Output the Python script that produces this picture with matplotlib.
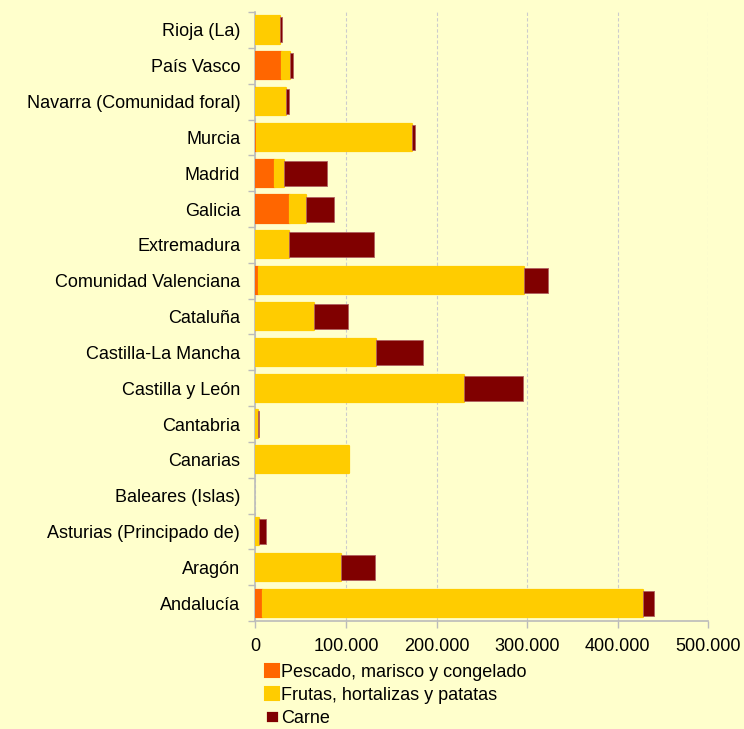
import matplotlib
matplotlib.use("Agg")
import matplotlib.pyplot as plt
from matplotlib.patches import Patch
from matplotlib.ticker import FuncFormatter, FixedLocator
import numpy as np

regiones = ["Rioja (La)", "País Vasco", "Navarra (Comunidad foral)", "Murcia",
            "Madrid", "Galicia", "Extremadura", "Comunidad Valenciana",
            "Cataluña", "Castilla-La Mancha", "Castilla y León", "Cantabria",
            "Canarias", "Baleares (Islas)", "Asturias (Principado de)",
            "Aragón", "Andalucía"]
pescado = [0, 29000, 500, 1500, 21000, 38500, 0, 4000,
           1000, 0, 0, 0, 0, 0, 0, 0, 8000]
frutas = [27500, 9500, 33000, 171500, 10000, 17000, 37000, 293000,
          64000, 133000, 230000, 3000, 103000, 0, 4000, 94000, 420000]
carne = [1500, 2500, 4000, 3500, 47500, 31000, 94000, 26500,
         37500, 52000, 65500, 1000, 0, 0, 7500, 38000, 12000]
series_labels = ["Pescado, marisco y congelado", "Frutas, hortalizas y patatas", "Carne"]

BG = "#FFFFCC"
C_PESC = "#FF6600"
C_FRUT = "#FFCC00"
C_CARN = "#800000"

plt.rcParams['font.family'] = ['Liberation Sans', 'DejaVu Sans']

fig = plt.figure(figsize=(7.44, 7.29), dpi=100, facecolor=BG)
ax = fig.add_axes([0.3434, 0.1481, 0.952 - 0.3434, 0.9835 - 0.1481], facecolor=BG)

y = np.arange(len(regiones))[::-1]
p = np.array(pescado)
f = np.array(frutas)
c = np.array(carne)
h = 0.76


def stacked(values, left, **kw):
    # skip empty segments so their edges don't leave stray lines
    m = values > 0
    ax.barh(y[m], values[m], left=left[m], **kw)


stacked(p, np.zeros_like(p), height=h, color=C_PESC, edgecolor=C_PESC,
        linewidth=1.6, joinstyle="round", zorder=3)
stacked(f, p, height=h, color=C_FRUT, edgecolor=C_FRUT,
        linewidth=1.6, joinstyle="round", zorder=3)
stacked(c, p + f, height=h * 0.92, color=C_CARN, edgecolor="#B06060",
        linewidth=0.6, zorder=4)

ax.set_xlim(0, 500000)
ax.set_ylim(-0.5, len(regiones) - 0.5)
ax.xaxis.set_major_locator(FixedLocator(np.arange(0, 500001, 100000)))
ax.xaxis.set_major_formatter(FuncFormatter(lambda v, pos: f"{int(v):,}".replace(",", ".")))
ax.grid(axis="x", color="#CCCCCC", linestyle=(0, (3, 2)), linewidth=0.8, zorder=0)

ax.set_yticks(y)
ax.set_yticklabels(regiones)
ax.set_yticks(np.arange(-0.5, len(regiones), 1.0), minor=True)
ax.tick_params(axis="y", which="major", length=0, pad=11, labelsize=13, colors="#000000")
ax.tick_params(axis="y", which="minor", length=5, color="#BBBBBB", width=1)
ax.tick_params(axis="x", length=5, color="#BBBBBB", width=1, pad=7, labelsize=13)

for s in ["top", "right"]:
    ax.spines[s].set_visible(False)
for s in ["left", "bottom"]:
    ax.spines[s].set_color("#BBBBBB")
    ax.spines[s].set_linewidth(1.2)

handles = [Patch(facecolor=C_PESC, edgecolor=C_PESC, linewidth=1.5),
           Patch(facecolor=C_FRUT, edgecolor=C_FRUT, linewidth=1.5),
           Patch(facecolor=C_CARN, edgecolor=BG, linewidth=2.0)]
fig.legend(handles, series_labels, loc="upper left", bbox_to_anchor=(265 / 744, 1 - 664 / 729),
           frameon=False, fontsize=13, handlelength=0.75, handleheight=0.75,
           handletextpad=0.15, labelspacing=0.33, borderpad=0, borderaxespad=0)

fig.savefig("out.png", dpi=100, facecolor=BG)
